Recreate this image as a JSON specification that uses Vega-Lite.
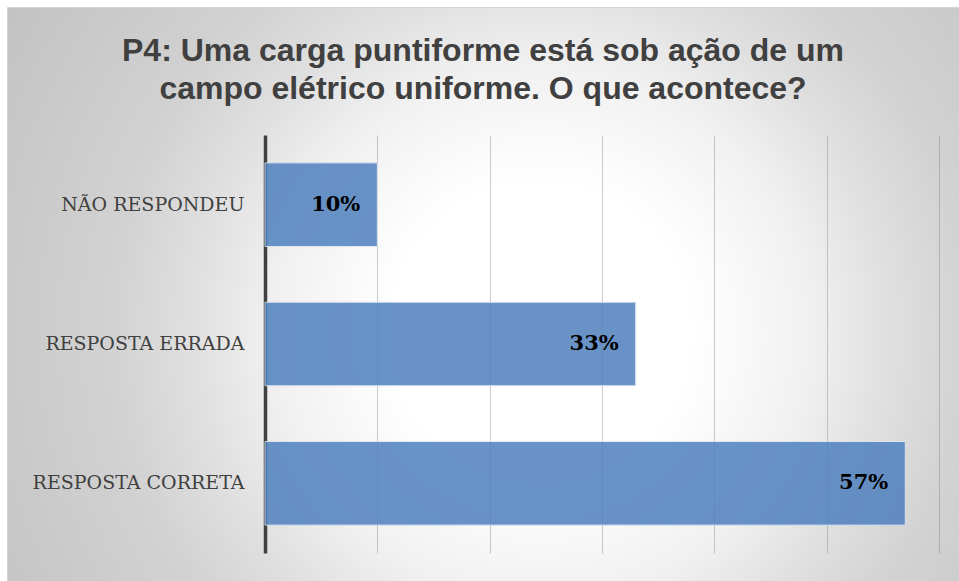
{
  "$schema": "https://vega.github.io/schema/vega-lite/v6.json",
  "width": 952,
  "height": 574,
  "autosize": {"type": "none"},
  "padding": {"left": 7, "top": 7, "right": 0, "bottom": 0},
  "background": "#ffffff",
  "view": {
    "fill": {
      "gradient": "radial",
      "x1": 0.56, "y1": 0.54, "r1": 0,
      "x2": 0.56, "y2": 0.54, "r2": 0.66,
      "stops": [
        {"offset": 0, "color": "#ffffff"},
        {"offset": 0.24, "color": "#ffffff"},
        {"offset": 0.43, "color": "#f0f0f0"},
        {"offset": 0.55, "color": "#e0e0e0"},
        {"offset": 0.68, "color": "#d2d2d2"},
        {"offset": 0.86, "color": "#c9c9c9"},
        {"offset": 1, "color": "#c2c2c2"}
      ]
    },
    "stroke": "#d4d4d4",
    "strokeWidth": 1
  },
  "title": {
    "text": ["P4: Uma carga puntiforme está sob ação de um", "campo elétrico uniforme. O que acontece?"],
    "font": "Liberation Sans",
    "fontSize": 32,
    "fontWeight": "bold",
    "color": "#404040",
    "lineHeight": 38,
    "anchor": "middle",
    "orient": "top",
    "offset": -99
  },
  "data": {
    "values": [
      {"categoria": "NÃO RESPONDEU", "percentual": 0.10},
      {"categoria": "RESPOSTA ERRADA", "percentual": 0.33},
      {"categoria": "RESPOSTA CORRETA", "percentual": 0.57}
    ]
  },
  "encoding": {
    "y": {
      "field": "categoria",
      "type": "nominal",
      "sort": null,
      "scale": {"range": [128, 546], "paddingInner": 0.4, "paddingOuter": 0.2},
      "axis": {
        "title": null,
        "orient": "left",
        "offset": -258,
        "domain": true,
        "domainColor": "#404040",
        "domainWidth": 3.5,
        "ticks": false,
        "grid": false,
        "labelPadding": 21,
        "labelLimit": 0,
        "labelFont": "DejaVu Serif",
        "labelFontSize": 19,
        "labelColor": "#404040"
      }
    },
    "x": {
      "field": "percentual",
      "type": "quantitative",
      "scale": {"domain": [-0.22967, 0.6178], "nice": false, "zero": false},
      "axis": {
        "title": null,
        "orient": "top",
        "values": [0.1, 0.2, 0.3, 0.4, 0.5, 0.6],
        "labels": false,
        "ticks": false,
        "domain": false,
        "grid": true,
        "gridColor": "#7f7f7f",
        "gridOpacity": 0.4,
        "gridWidth": 1
      }
    }
  },
  "layer": [
    {
      "mark": {"type": "bar", "color": "#4f81bd", "opacity": 0.85, "stroke": "#dbe5f1", "strokeWidth": 1},
      "encoding": {"x2": {"datum": 0}}
    },
    {
      "mark": {"type": "text", "align": "right", "baseline": "middle", "dx": -17, "font": "DejaVu Serif", "fontWeight": "bold", "fontSize": 21, "color": "#000000"},
      "encoding": {"text": {"field": "percentual", "type": "quantitative", "format": ".0%"}}
    }
  ]
}
